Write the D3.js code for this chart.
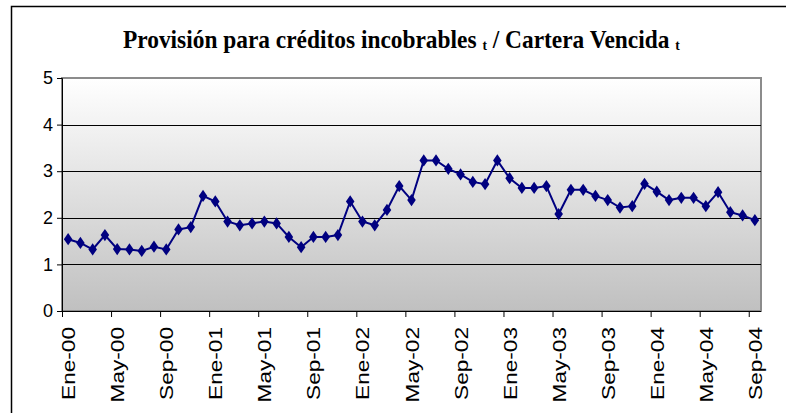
<!DOCTYPE html>
<html lang="es">
<head>
<meta charset="UTF-8">
<title>Provisión / Cartera Vencida</title>
<script src="https://d3js.org/d3.v7.min.js"></script>
<style>
  body { margin: 0; background: #fff; }
  svg { display: block; }
</style>
</head>
<body>
<script>
// meses (Ene-00 .. Sep-04)
var months = ["Ene","Feb","Mar","Abr","May","Jun","Jul","Ago","Sep","Oct","Nov","Dic"];
var years = ["00","01","02","03","04"];
var categories = [];
years.forEach(function (y) {
  months.forEach(function (m) { categories.push(m + "-" + y); });
});
categories = categories.slice(0, 57);

var values = [
  1.54, 1.46, 1.32, 1.63, 1.33, 1.32, 1.29, 1.38, 1.32, 1.75, 1.80, 2.47,
  2.35, 1.92, 1.84, 1.88, 1.92, 1.88, 1.59, 1.37, 1.59, 1.59, 1.63, 2.35,
  1.92, 1.84, 2.17, 2.68, 2.38, 3.23, 3.23, 3.05, 2.93, 2.77, 2.72, 3.23,
  2.85, 2.64, 2.64, 2.68, 2.08, 2.60, 2.60, 2.47, 2.38, 2.22, 2.25, 2.73,
  2.56, 2.38, 2.43, 2.43, 2.25, 2.55, 2.12, 2.05, 1.95
];
var yTicks = [0, 1, 2, 3, 4, 5];
var xLabels = ["Ene-00","May-00","Sep-00","Ene-01","May-01","Sep-01","Ene-02","May-02",
               "Sep-02","Ene-03","May-03","Sep-03","Ene-04","May-04","Sep-04"];

var width = 786, height = 413;
var plot = { left: 62, top: 78, right: 761, bottom: 311 };

var svg = d3.select("body").append("svg")
  .attr("width", width)
  .attr("height", height);

// marco exterior
svg.append("rect")
  .attr("x", 11.5).attr("y", 6.5)
  .attr("width", 800).attr("height", 430)
  .attr("fill", "#fff")
  .attr("stroke", "#000")
  .attr("stroke-width", 1.5);

var x = d3.scaleBand()
  .domain(categories)
  .range([plot.left, plot.right])
  .paddingInner(0).paddingOuter(0);

var y = d3.scaleLinear()
  .domain([0, 5])
  .range([plot.bottom, plot.top]);

// fondo degradado
var grad = svg.append("defs").append("linearGradient")
  .attr("id", "bg").attr("x1", 0).attr("y1", 0).attr("x2", 0).attr("y2", 1);
grad.append("stop").attr("offset", "0%").attr("stop-color", "#ffffff");
grad.append("stop").attr("offset", "100%").attr("stop-color", "#c0c0c0");

svg.append("rect")
  .attr("x", plot.left).attr("y", plot.top)
  .attr("width", plot.right - plot.left)
  .attr("height", plot.bottom - plot.top)
  .attr("fill", "url(#bg)")
  .attr("stroke", "#8c8c8c")
  .attr("stroke-width", 2);

// lineas de cuadricula
svg.selectAll("line.grid")
  .data(yTicks.filter(function (d) { return d > 0 && d < 5; }))
  .enter().append("line")
  .attr("class", "grid")
  .attr("x1", plot.left).attr("x2", plot.right)
  .attr("y1", function (d) { return Math.round(y(d)) + 0.5; })
  .attr("y2", function (d) { return Math.round(y(d)) + 0.5; })
  .attr("stroke", "#000")
  .attr("stroke-width", 1);

// eje Y
var yAxis = svg.append("g")
  .attr("transform", "translate(" + plot.left + ",0)")
  .call(d3.axisLeft(y).tickValues(yTicks).tickSize(5).tickPadding(4).tickFormat(d3.format("d")));
yAxis.select(".domain").attr("stroke", "#000");
yAxis.selectAll(".tick line").attr("stroke", "#000");
yAxis.selectAll("text")
  .attr("font-family", "'Liberation Sans', Arial, sans-serif")
  .attr("font-size", 18)
  .attr("fill", "#000");

// eje X: marcas cada 4 meses en los limites de categoria
var tickCats = categories.filter(function (d, i) { return i % 4 === 0; });
var xAxis = svg.append("g");
xAxis.append("line")
  .attr("x1", plot.left).attr("x2", plot.right)
  .attr("y1", plot.bottom + 0.5).attr("y2", plot.bottom + 0.5)
  .attr("stroke", "#000");
xAxis.selectAll("line.xt")
  .data(tickCats)
  .enter().append("line")
  .attr("class", "xt")
  .attr("x1", function (d) { return x(d) + 0.5; })
  .attr("x2", function (d) { return x(d) + 0.5; })
  .attr("y1", plot.bottom).attr("y2", plot.bottom + 6)
  .attr("stroke", "#000");

var labels = xAxis.selectAll("text.xl")
  .data(xLabels)
  .enter().append("text")
  .attr("class", "xl")
  .attr("font-family", "'Liberation Sans', Arial, sans-serif")
  .attr("font-size", 19)
  .attr("fill", "#000")
  .attr("text-anchor", "end")
  .text(function (d) { return d; });

// estirar las etiquetas en su direccion (imagen original deformada)
var w0 = labels.nodes()[0].getComputedTextLength();
var stretch = 73 / w0;
labels.attr("transform", function (d) {
  var cx = x(d) + x.bandwidth() / 2 + 7;
  return "translate(" + cx + "," + (plot.bottom + 16) + ") rotate(-90) scale(" + stretch + ",1)";
});

// serie
var line = d3.line()
  .x(function (d, i) { return x(categories[i]) + x.bandwidth() / 2; })
  .y(function (d) { return y(d); });

svg.append("path")
  .datum(values)
  .attr("d", line)
  .attr("fill", "none")
  .attr("stroke", "#000080")
  .attr("stroke-width", 2);

svg.selectAll("path.mk")
  .data(values)
  .enter().append("path")
  .attr("class", "mk")
  .attr("d", d3.symbol().type(d3.symbolDiamond).size(48))
  .attr("transform", function (d, i) {
    return "translate(" + (x(categories[i]) + x.bandwidth() / 2) + "," + y(d) + ") scale(1.15,0.95)";
  })
  .attr("fill", "#000080");

// titulo
var title = svg.append("text")
  .attr("y", 48)
  .attr("font-family", "'Liberation Serif', 'Times New Roman', serif")
  .attr("font-weight", "bold")
  .attr("font-size", 26)
  .attr("fill", "#000");
title.append("tspan").text("Provisión para créditos incobrables ");
title.append("tspan").attr("font-size", 15).attr("dy", 2).text("t");
title.append("tspan").attr("dy", -2).text(" / Cartera Vencida ");
title.append("tspan").attr("font-size", 15).attr("dy", 2).text("t");

var tw = title.node().getComputedTextLength();
var tScale = (680 - 123) / tw;
title.attr("transform", "translate(123,0) scale(" + tScale + ",1)");
</script>
</body>
</html>
